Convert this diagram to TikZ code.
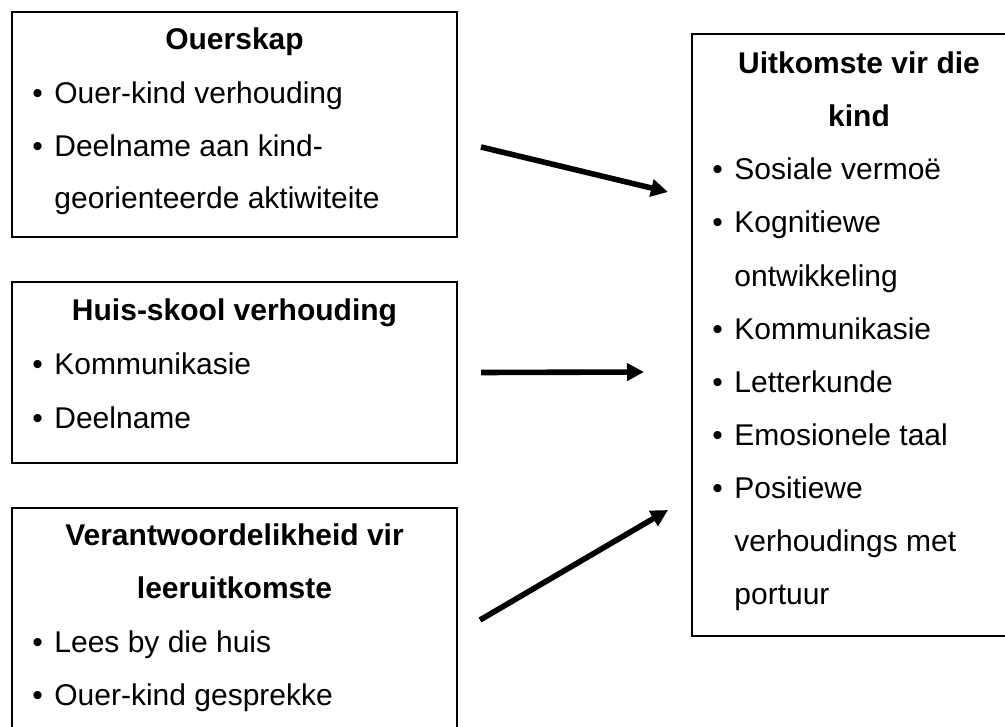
\documentclass[tikz,border=0pt]{standalone}
\usepackage{fontspec}
\setmainfont{Liberation Sans}
\usepackage{tikz}
\usetikzlibrary{calc,arrows.meta}

\tikzset{
  box/.style={draw,line width=0.6pt,inner sep=0pt,outer sep=0pt,minimum width=222.5pt},
  head/.style={anchor=base,inner sep=0pt,font=\fontsize{15}{18}\selectfont\bfseries},
  txt/.style={anchor=base west,inner sep=0pt,font=\fontsize{15}{18}\selectfont},
  pijl/.style={line width=2.8pt,-{Triangle[length=8.5pt,width=8.5pt]}}
}
\newcommand{\kol}{\makebox[11pt][l]{\textbullet}}

\begin{document}
\begin{tikzpicture}[x=0.5pt,y=-0.5pt]
  \clip(0,0)rectangle(1005,727);
  % blokke links
  \node[box,minimum height=112.5pt](ouer) at (234.5,124.5){};
  \node[box,minimum height=90.5pt](huis) at (234.5,372.5){};
  \node[box,minimum height=126pt](leer) at (234.5,634){};
  % blok regs
  \node[box,minimum width=167pt,minimum height=301pt](kind) at (859,335){};
  % Ouerskap
  \node[head](ouert) at (234.5,50){Ouerskap};
  \node[txt](ouer1) at (32,104){\kol Ouer-kind verhouding};
  \node[txt](ouer2) at (32,157){\kol Deelname aan kind-};
  \node[txt](ouer3) at (54,209){georienteerde aktiwiteite};
  % Huis-skool verhouding
  \node[head](huist) at (234.5,320){Huis-skool verhouding};
  \node[txt](huis1) at (32,374){\kol Kommunikasie};
  \node[txt](huis2) at (32,428){\kol Deelname};
  % Verantwoordelikheid
  \node[head](leert1) at (234.5,545){Verantwoordelikheid vir};
  \node[head](leert2) at (234.5,598){leeruitkomste};
  \node[txt](leer1) at (32,652){\kol Lees by die huis};
  \node[txt](leer2) at (32,705){\kol Ouer-kind gesprekke};
  % Uitkomste
  \node[head](kindt1) at (859,74){Uitkomste vir die};
  \node[head](kindt2) at (859,127){kind};
  \node[txt](kind1) at (712,180){\kol Sosiale vermoë};
  \node[txt](kind2) at (712,233){\kol Kognitiewe};
  \node[txt](kind3) at (734,286){ontwikkeling};
  \node[txt](kind4) at (712,339){\kol Kommunikasie};
  \node[txt](kind5) at (712,392){\kol Letterkunde};
  \node[txt](kind6) at (712,445){\kol Emosionele taal};
  \node[txt](kind7) at (712,498){\kol Positiewe};
  \node[txt](kind8) at (734,551){verhoudings met};
  \node[txt](kind9) at (734,604){portuur};
  % pyle
  \draw[pijl]($(ouer.east)+(24,22.5)$)--($(kind.west)+(-24,-143)$);
  \draw[pijl]($(huis.east)+(24,0)$)--($(kind.west)+(-48,37)$);
  \draw[pijl]($(leer.east)+(23,-14)$)--($(kind.west)+(-24,175)$);
\end{tikzpicture}
\end{document}
